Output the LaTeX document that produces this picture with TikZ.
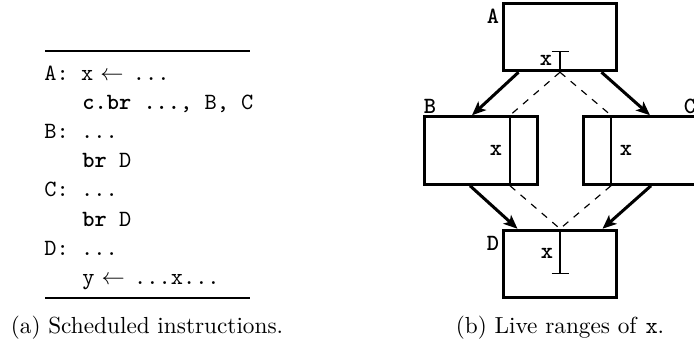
\documentclass[tikz,border=0pt]{standalone}
\usepackage{tikz}
\usetikzlibrary{arrows.meta,calc,positioning}
\tikzset{
  block/.style={draw, line width=1.3pt, minimum width=49pt, minimum height=29pt, inner sep=0pt},
  blocklabel/.style={font=\ttfamily\bfseries, inner sep=1pt},
  code/.style={font=\ttfamily, anchor=base west, inner sep=0pt},
  caption/.style={font=\rmfamily, inner sep=0pt},
  live/.style={line width=0.5pt},
  flow/.style={line width=1.3pt, -{Stealth[length=6pt,width=5pt,inset=1.5pt]}},
  liveflow/.style={line width=0.5pt, dash pattern=on 3pt off 3pt},
}

\begin{document}
\begin{tikzpicture}[x=0.43pt, y=-0.43pt]
\useasboundingbox (0,0) rectangle (694,347);

% (a) the listing
\draw[line width=0.9pt] (45,51) -- (250,51);
\node[code] (rowA)  at (44,80)    {A:~x\hspace{3pt}$\leftarrow$\hspace{4pt}...};
\node[code] (rowA2) at (82,109.2) {\textbf{c.br ...}, B, C};
\node[code] (rowB)  at (44,138.4) {B:~...};
\node[code] (rowB2) at (82,167.6) {\textbf{br} D};
\node[code] (rowC)  at (44,196.8) {C:~...};
\node[code] (rowC2) at (82,226)   {\textbf{br} D};
\node[code] (rowD)  at (44,255.2) {D:~...};
\node[code] (rowD2) at (82,284.4) {y\hspace{3pt}$\leftarrow$\hspace{4pt}...x...};
\draw[line width=0.9pt] (45,298) -- (250,298);
\node[caption] (capa) at (147,328) {(a) Scheduled instructions.};

% (b) the blocks
\node[block] (A) at (560,37) {};
\node[block] (B) at (481,150.5) {};
\node[block] (C) at (640,150.5) {};
\node[block] (D) at (560,264) {};
\node[blocklabel] (labA) at (493,16)  {A};
\node[blocklabel] (labB) at (430,106) {B};
\node[blocklabel] (labC) at (690,106) {C};
\node[blocklabel] (labD) at (493,243) {D};

% live range of x
\coordinate (xAtop) at ($(A.south)+(0,-21)$);
\coordinate (xBtop) at ($(B.north)+(29,0)$);
\coordinate (xBbot) at ($(B.south)+(29,0)$);
\coordinate (xCtop) at ($(C.north)+(-29,0)$);
\coordinate (xCbot) at ($(C.south)+(-29,0)$);
\coordinate (xDbot) at ($(D.north)+(0,45)$);
\draw[live] (xAtop) -- (A.south);
\draw[live] ($(xAtop)+(-8.5,0)$) -- ($(xAtop)+(8.5,0)$);
\draw[live] (xBtop) -- (xBbot);
\draw[live] (xCtop) -- (xCbot);
\draw[live] (D.north) -- (xDbot);
\draw[live] ($(xDbot)+(-8.5,0)$) -- ($(xDbot)+(8.5,0)$);
\node[blocklabel] (xA) at (546,60)  {x};
\node[blocklabel] (xB) at (496,150) {x};
\node[blocklabel] (xC) at (626,150) {x};
\node[blocklabel] (xD) at (547,253) {x};

\draw[liveflow] (A.south) -- (xBtop);
\draw[liveflow] (A.south) -- (xCtop);
\draw[liveflow] (xBbot) -- (D.north);
\draw[liveflow] (xCbot) -- (D.north);

% control flow
\draw[flow] ($(A.south west)+(17,0)$) -- ($(B.north)+(-9,0)$);
\draw[flow] ($(A.south east)+(-17,0)$) -- ($(C.north)+(10,0)$);
\draw[flow] ($(B.south)+(-11,0)$) -- ($(D.north west)+(16,0)$);
\draw[flow] ($(C.south)+(11,0)$) -- ($(D.north east)+(-16,0)$);

\node[caption] (capb) at (560,328) {(b) Live ranges of \texttt{x}.};
\end{tikzpicture}
\end{document}
